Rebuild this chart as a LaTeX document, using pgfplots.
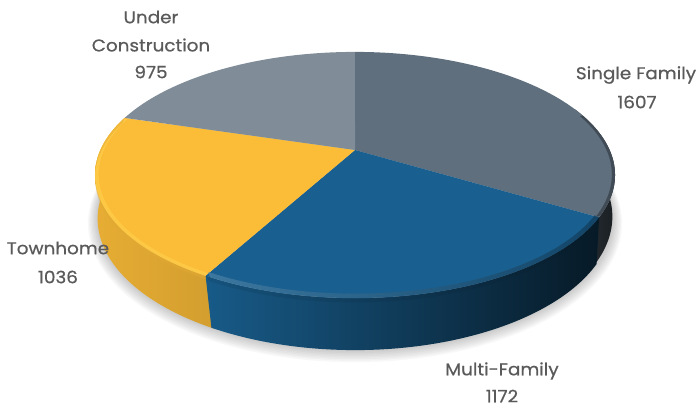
\documentclass[border=0pt]{standalone}
\usepackage{fontspec}
\usepackage{pgfplots}
\usepackage{pgfplotstable}
\pgfplotsset{compat=1.18}
\setmainfont{Poppins}[FakeBold=0.7,FakeStretch=1.08]
\definecolor{cSingle}{HTML}{5F6F7E}
\definecolor{cMulti}{HTML}{195F8F}
\definecolor{cTown}{HTML}{FBBC38}
\definecolor{cUnder}{HTML}{808D98}
\definecolor{cLabel}{HTML}{5A5A5A}
\definecolor{cTownHi}{HTML}{FFD24E}
\pgfplotstableread{
name value
Single 1607
Multi 1172
Town 1036
Under 975
}\pietable
\pgfplotstablegetelem{0}{value}\of\pietable \let\vA\pgfplotsretval
\pgfplotstablegetelem{1}{value}\of\pietable \let\vB\pgfplotsretval
\pgfplotstablegetelem{2}{value}\of\pietable \let\vC\pgfplotsretval
\pgfplotstablegetelem{3}{value}\of\pietable \let\vD\pgfplotsretval
\pgfmathsetmacro\total{\vA+\vB+\vC+\vD}
\pgfmathsetmacro\tA{360*(\vA/\total)}
\pgfmathsetmacro\tB{360*((\vA+\vB)/\total)}
\pgfmathsetmacro\tC{360*((\vA+\vB+\vC)/\total)}
\pgfmathsetmacro\tBb{\tB-1.5}
\pgfmathsetmacro\tAb{\tA+1.5}
\newcommand\pwedge[3]{% t1 t2 style
  \addplot[#3,draw=none,domain=0:1,samples=90]
   ({Xp(#1+(#2-#1)*x,254.6)},{Yp(#1+(#2-#1)*x,150,118)}) -- (axis cs:355,150) -- cycle;}
% band between two rims: t1 t2 R1 c1 H1 R2 c2 H2 style
\newcommand\band[9]{%
  \addplot[#9,draw=none,domain=0:2,samples=181]
   ({x<=1 ? Xp(#1+(#2-#1)*x,#3) : Xp(#2-(#2-#1)*(x-1),#6)},
    {x<=1 ? Yp(#1+(#2-#1)*x,#4,#5) : Yp(#2-(#2-#1)*(x-1),#7,#8)}) -- cycle;}
\pgfplotsset{every axis plot/.append style={line join=round}}
\begin{document}
\begin{tikzpicture}
\begin{axis}[
  scale only axis, width=698pt, height=408pt,
  xmin=0, xmax=698, ymin=0, ymax=408, y dir=reverse,
  hide axis, clip=false, axis on top=false,
  declare function={
    Xp(\t,\r)=355+\r*sin(\t)/(1+0.203*cos(\t));
    Yp(\t,\c,\h)=\c-\h*cos(\t)/(1+0.203*cos(\t));
  }]
\addplot[draw=none,forget plot] coordinates {(0,0)(698,408)};
% soft shadow
\pgfplotsinvokeforeach{1,2,...,8}{
  \addplot[fill=black,fill opacity=0.028,draw=none,domain=0:360,samples=120]
    ({Xp(x,252+1.2*#1)},{Yp(x,192+0.4*#1,126+0.9*#1)}) -- cycle;
}
% sides
\band{68}{\tAb}{254.6}{150}{118}{252}{190}{126}{left color=black!55!cSingle,right color=black!72!cSingle}
\band{\tBb}{\tC}{254.6}{150}{118}{252}{192}{126}{left color=cTown!92!black,right color=cTown!84!black}
\band{\tA}{\tB}{254.6}{150}{118}{252}{192}{126}{left color=cMulti!95!black,middle color=cMulti!52!black,right color=cMulti!27!black}
% top faces
\pwedge{0}{\tA}{fill=cSingle}
\pwedge{\tA}{\tB}{fill=cMulti}
\pwedge{\tB}{\tC}{fill=cTown}
\pwedge{\tC}{360}{fill=cUnder}
% bevel at the rim
\band{\tB}{\tC}{251}{150}{115.5}{254.6}{150}{118.3}{fill=cTownHi,fill opacity=0.6}
\band{\tB}{\tC}{254.6}{150}{118.3}{254.6}{153}{118.3}{fill=cTown!90!black,fill opacity=0.5}
\band{\tA}{\tB}{250}{150}{114.5}{254.6}{150}{118.3}{left color=cMulti!72!white,middle color=cMulti!85!black,right color=cMulti!50!black,fill opacity=0.55}
\band{\tA}{\tB}{254.6}{150}{118.3}{254.6}{154}{118.3}{left color=cMulti!85!black,middle color=cMulti!55!black,right color=cMulti!27!black,fill opacity=0.7}
\band{72}{\tA}{251.5}{150}{116}{254.6}{150}{118.3}{fill=black!70!cSingle,fill opacity=0.45}
% labels
\begin{scope}[every node/.style={font=\fontsize{17}{19}\selectfont,text=cLabel,inner sep=0pt,anchor=center}]
\node at (axis cs:151,17) {Under};
\node at (axis cs:151,45) {Construction};
\node at (axis cs:151,72) {\vD};
\node at (axis cs:636,75) {Single Family};
\node at (axis cs:637,102) {\vA};
\node at (axis cs:58,248) {Townhome};
\node at (axis cs:58,277) {\vC};
\node at (axis cs:502,371) {Multi-Family};
\node at (axis cs:502,396) {\vB};
\end{scope}
\end{axis}
\end{tikzpicture}
\end{document}
